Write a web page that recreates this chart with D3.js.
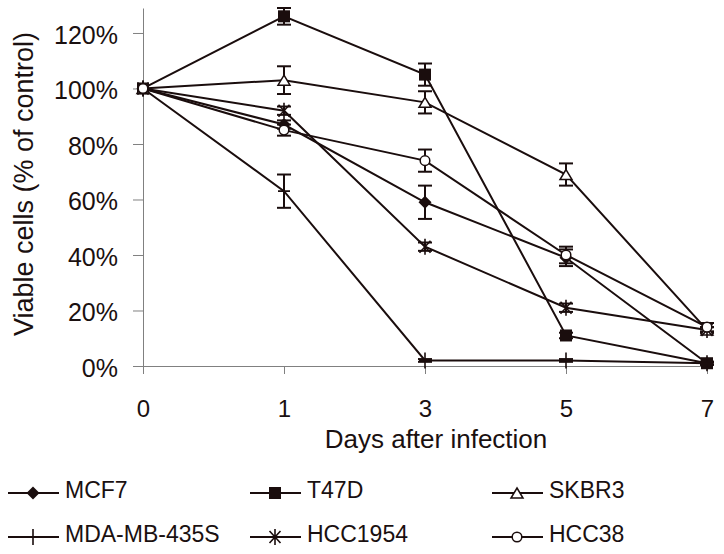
<!DOCTYPE html>
<html><head><meta charset="utf-8">
<script src="https://cdn.jsdelivr.net/npm/d3@7"></script>
<style>body{margin:0;background:#fff}svg{display:block}text{font-family:"Liberation Sans",Arial,sans-serif;fill:#1a1010}</style>
</head><body>
<svg id="c" width="724" height="554"></svg>
<script>
const days = ["0","1","3","5","7"];
const seriesNames = ["MCF7","T47D","SKBR3","MDA-MB-435S","HCC1954","HCC38"];
const markers = ["diamond","square","triangle","plus","star","circle"];
const MCF7        = [1.00, 0.87, 0.59, 0.39, 0.01];
const T47D        = [1.00, 1.26, 1.05, 0.11, 0.01];
const SKBR3       = [1.00, 1.03, 0.95, 0.69, 0.13];
const MDA_MB_435S = [1.00, 0.63, 0.02, 0.02, 0.01];
const HCC1954     = [1.00, 0.92, 0.43, 0.21, 0.13];
const HCC38       = [1.00, 0.85, 0.74, 0.40, 0.14];
const errMCF7     = [0.00, 0.015, 0.06, 0.03, 0.005];
const errT47D     = [0.00, 0.03, 0.04, 0.01, 0.005];
const errSKBR3    = [0.00, 0.05, 0.04, 0.04, 0.01];
const errMDA      = [0.00, 0.06, 0.005, 0.005, 0.005];
const errHCC1954  = [0.00, 0.015, 0.015, 0.015, 0.01];
const errHCC38    = [0.00, 0.02, 0.04, 0.03, 0.015];
const yTicks = [0, 0.2, 0.4, 0.6, 0.8, 1.0, 1.2];
const xTitle = "Days after infection";
const yTitle = "Viable cells (% of control)";

const values = [MCF7, T47D, SKBR3, MDA_MB_435S, HCC1954, HCC38];
const errs = [errMCF7, errT47D, errSKBR3, errMDA, errHCC1954, errHCC38];
const ink = "#1a0d0d";
const svg = d3.select("#c");
const x = d3.scalePoint().domain(days).range([143, 707]);
const y = d3.scaleLinear().domain([0, 1.29]).range([366, 8]);

// axes
const yAxis = svg.append("g").attr("transform","translate(143,0)")
  .call(d3.axisLeft(y).tickValues(yTicks).tickFormat(d3.format(".0%")).tickSize(10).tickSizeOuter(0).tickPadding(15));
const xAxis = svg.append("g").attr("transform","translate(0,366)")
  .call(d3.axisBottom(x).tickSize(8).tickSizeOuter(0).tickPadding(26));
[yAxis, xAxis].forEach(g=>{
  g.selectAll("path,line").attr("stroke","#808080").attr("stroke-width",1);
  g.selectAll("text").attr("fill",ink);
});
yAxis.selectAll("text").style("font-size","25px").attr("dy","0.42em");
xAxis.selectAll("text").style("font-size","24px");

svg.append("text").attr("x",436).attr("y",448).attr("text-anchor","middle")
  .style("font-size","26px").text(xTitle);
svg.append("text").attr("transform","translate(33,184) rotate(-90)").attr("text-anchor","middle")
  .style("font-size","27px").text(yTitle);

const line = d3.line().x((d,i)=>x(days[i])).y(d=>y(d));
const plot = svg.append("g");
values.forEach(v=>{
  plot.append("path").attr("d",line(v)).attr("fill","none").attr("stroke",ink).attr("stroke-width",2);
});
// error bars
values.forEach((v,s)=>{
  v.forEach((d,i)=>{
    const e = errs[s][i]; if(!e) return;
    const cx = x(days[i]);
    const g = plot.append("g").attr("stroke",ink).attr("stroke-width",2);
    g.append("line").attr("x1",cx).attr("x2",cx).attr("y1",y(d+e)).attr("y2",y(d-e));
    g.append("line").attr("x1",cx-7).attr("x2",cx+7).attr("y1",y(d+e)).attr("y2",y(d+e));
    g.append("line").attr("x1",cx-7).attr("x2",cx+7).attr("y1",y(d-e)).attr("y2",y(d-e));
  });
});
function marker(g, type, cx, cy){
  const m = g.append("g").attr("transform",`translate(${cx},${cy})`);
  if(type==="diamond") m.append("path").attr("d","M0,-6.5L6.5,0L0,6.5L-6.5,0Z").attr("fill",ink);
  else if(type==="square") m.append("rect").attr("x",-6).attr("y",-6).attr("width",12).attr("height",12).attr("fill",ink);
  else if(type==="triangle") m.append("path").attr("d","M0,-5L6,5L-6,5Z").attr("fill","#fff").attr("stroke",ink).attr("stroke-width",1.5);
  else if(type==="circle") m.append("circle").attr("r",4.8).attr("fill","#fff").attr("stroke",ink).attr("stroke-width",1.5);
  else if(type==="plus") m.append("path").attr("d","M0,-8V8M-6,0H6").attr("stroke",ink).attr("stroke-width",1.6);
  else if(type==="star") m.append("path").attr("d","M-5.5,-6L5.5,6M5.5,-6L-5.5,6M0,-8V8").attr("stroke",ink).attr("stroke-width",1.6);
}
values.forEach((v,s)=>{
  v.forEach((d,i)=>marker(plot, markers[s], x(days[i]), y(d)));
});

// legend
const legCols = [8, 250, 492];
const legRows = [493, 537];
seriesNames.forEach((n,s)=>{
  const lx = legCols[s%3], ly = legRows[Math.floor(s/3)];
  const g = svg.append("g");
  g.append("line").attr("x1",lx).attr("x2",lx+51).attr("y1",ly).attr("y2",ly).attr("stroke",ink).attr("stroke-width",2);
  marker(g, markers[s], lx+25, ly);
  g.append("text").attr("x",lx+57).attr("y",ly+5).style("font-size","23px").text(n);
});
</script>
</body></html>
